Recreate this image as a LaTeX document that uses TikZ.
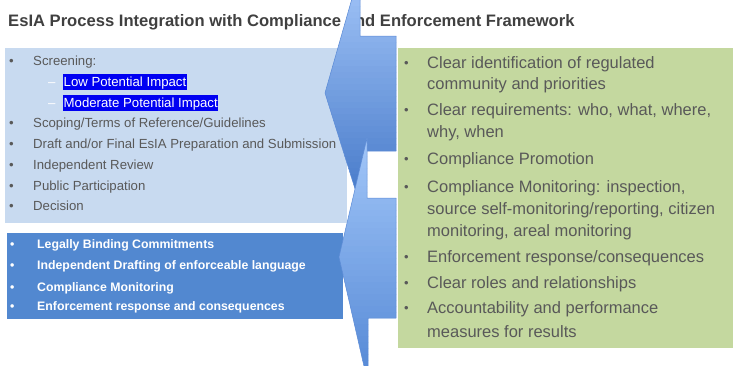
\documentclass[tikz,border=0pt]{standalone}
\usepackage{fontspec}
\setmainfont{Liberation Sans}
\usetikzlibrary{positioning}

\definecolor{paleblue}{HTML}{C8DAF0}
\definecolor{midblue}{HTML}{5288D0}
\definecolor{palegreen}{HTML}{C4D89F}
\definecolor{textgray}{HTML}{595959}
\definecolor{titlegray}{HTML}{404040}
\definecolor{markblue}{HTML}{0000F2}
\definecolor{arrowline}{HTML}{5C8BD6}
\definecolor{uppertop}{HTML}{9DC0F5}
\definecolor{upperbot}{HTML}{4A7DCB}
\definecolor{lowertop}{HTML}{A2C6F8}
\definecolor{lowerbot}{HTML}{5589D6}

\begin{document}
\begin{tikzpicture}[
  x=1pt, y=-1pt,
  every node/.style={inner sep=0pt},
  panel/.style={anchor=north west, minimum width=#1},
  stage/.style={anchor=base west, text=textgray, font=\fontsize{13.2}{15}\selectfont},
  marked/.style={stage, fill=markblue, text=white, inner xsep=0.5pt,
    inner ysep=2.5pt, text height=10pt, text depth=1pt},
  term/.style={anchor=base west, text=white, font=\bfseries\fontsize{12.3}{14}\selectfont},
  goal/.style={anchor=base west, text=textgray, font=\fontsize{16.5}{18}\selectfont},
  blockarrow/.style={draw=arrowline, line width=0.5pt, line join=round}
]
\useasboundingbox (0,0) rectangle (733,365);

\node[anchor=base west, text=titlegray, font=\bfseries\fontsize{16.6}{18}\selectfont]
  (title) at (8,26) {EsIA Process Integration with Compliance and Enforcement Framework};

% the three panels
\node[panel=342pt, fill=paleblue, minimum height=175pt] (stages) at (5,48) {};
\node[panel=336pt, fill=midblue, minimum height=86pt] (terms) at (7,233) {};
\node[panel=335pt, fill=palegreen, minimum height=300pt] (goals) at (398,48) {};

% ESIA stages
\foreach \yy/\txt [count=\i] in {65.5/{Screening:},
    127/{Scoping/Terms of Reference/Guidelines},
    148/{Draft and/or Final EsIA Preparation and Submission},
    169/{Independent Review}, 190.5/{Public Participation}, 210.5/{Decision}} {
  \node[stage] (sbul\i) at (9,\yy) {\textbullet};
  \node[stage] (stage\i) at (33,\yy) {\txt};
}
\foreach \yy/\txt [count=\i] in {86.5/{Low Potential Impact}, 107/{Moderate Potential Impact}} {
  \node[stage, text=white] (dash\i) at (48,\yy) {--};
  \node[marked] (impact\i) at (63,\yy) {\txt};
}

% binding terms
\foreach \yy/\txt [count=\i] in {248/{Legally Binding Commitments},
    269/{Independent Drafting of enforceable language},
    291/{Compliance Monitoring}, 310/{Enforcement response and consequences}} {
  \node[term] (tbul\i) at (10,\yy) {\textbullet};
  \node[term] (term\i) at (37,\yy) {\txt};
}

% framework elements
\foreach \yy in {68.5,115.5,164.5,192.5,262.5,288.5,313.5}
  \node[goal, font=\fontsize{13}{15}\selectfont] at (404,\yy-1) {\textbullet};
\foreach \yy/\txt [count=\i] in {68.5/{Clear identification of regulated},
    89.5/{community and priorities},
    115.5/{Clear requirements: who, what, where,}, 137.5/{why, when},
    164.5/{Compliance Promotion},
    192.5/{Compliance Monitoring: inspection,},
    214.5/{source self-monitoring/reporting, citizen},
    236.5/{monitoring, areal monitoring},
    262.5/{Enforcement response/consequences},
    288.5/{Clear roles and relationships},
    313.5/{Accountability and performance}, 337.5/{measures for results}}
  \node[goal] (goal\i) at (427,\yy) {\txt};

% block arrows, filled in bands from light (top) to dark (bottom)
\begin{scope}
  \clip (0,0) rectangle (733,365);
  \path[save path=\upperarrow]
    (325,93) -- (355,-12) -- (360,-12) -- (360,36) -- (396,36) -- (396,151)
    -- (366,151) -- (356,192) -- cycle;
  \path[save path=\lowerarrow]
    (339,257) -- (367,138) -- (367,198) -- (396,198) -- (396,318)
    -- (368,318) -- (368,375) -- (366,375) -- cycle;
  \begin{scope}
    \clip[use path=\upperarrow];
    \foreach \k in {0,...,33} {
      \pgfmathsetmacro\pct{100*\k/33}
      \fill[upperbot!\pct!uppertop] (320,{-12+6*\k}) rectangle (400,{-5+6*\k});
    }
  \end{scope}
  \draw[blockarrow, use path=\upperarrow];
  \begin{scope}
    \clip[use path=\lowerarrow];
    \foreach \k in {0,...,39} {
      \pgfmathsetmacro\pct{100*\k/39}
      \fill[lowerbot!\pct!lowertop] (330,{138+6*\k}) rectangle (400,{145+6*\k});
    }
  \end{scope}
  \draw[blockarrow, use path=\lowerarrow];
\end{scope}
\end{tikzpicture}
\end{document}
